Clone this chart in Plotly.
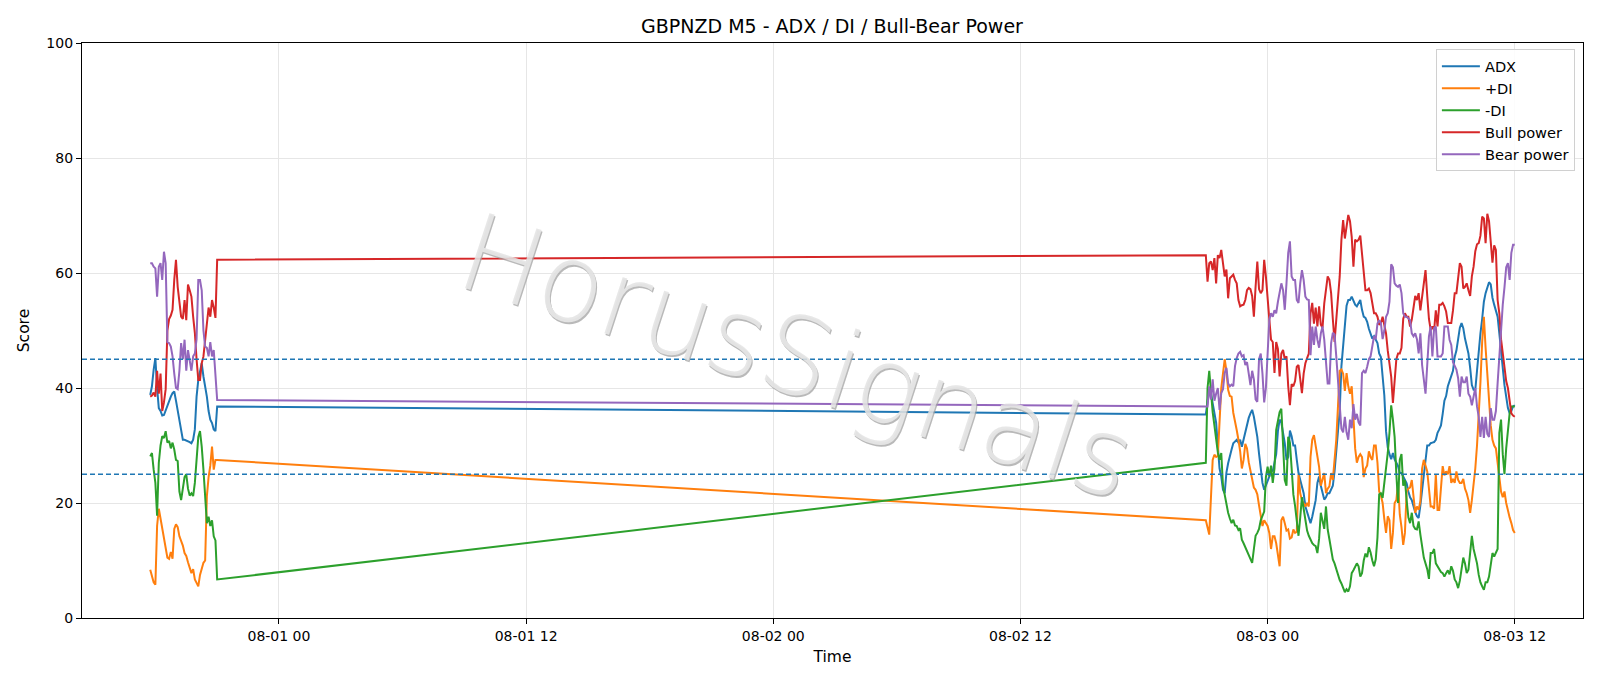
import pandas as pd
import plotly.graph_objects as go

# ---------------- data ----------------
seg1_start = "2026-07-31 17:45"
seg2_start = "2026-08-02 21:00"

adx_1 = [38.8, 40.3, 43.2, 45.2, 40.0, 36.5, 36.0, 35.2, 35.3, 36.2,
         36.8, 37.8, 38.5, 39.1, 39.4, 37.8, 36.0, 34.3, 32.5, 31.0,
         31.0, 30.9, 30.7, 30.6, 30.4, 31.0, 32.8, 38.5, 41.4, 43.0,
         44.3, 42.0, 40.3, 38.5, 36.0, 34.5, 33.9, 32.8, 32.5, 36.8]
pdi_1 = [8.4, 7.3, 6.2, 5.8, 16.0, 19.0, 17.3, 15.5, 13.8, 12.5,
         10.5, 10.3, 11.5, 10.3, 15.5, 16.3, 15.8, 14.2, 13.5, 12.6,
         11.3, 10.8, 9.7, 8.8, 7.8, 8.5, 6.7, 6.1, 5.5, 7.5,
         8.5, 9.6, 10.0, 21.2, 24.5, 26.5, 29.8, 25.8, 27.5, 27.5]
mdi_1 = [28.1, 28.7, 25.8, 23.5, 17.8, 27.0, 30.0, 31.6, 31.3, 32.5,
         30.5, 30.8, 29.5, 30.5, 29.3, 27.5, 27.3, 22.0, 20.5, 23.0,
         24.5, 25.0, 22.5, 21.3, 21.7, 21.2, 23.5, 27.5, 31.5, 32.5,
         29.8, 25.8, 21.5, 16.5, 17.6, 16.0, 17.0, 14.2, 13.5, 6.7]
bull_1 = [38.5, 38.7, 39.2, 38.5, 43.0, 39.0, 42.5, 36.0, 37.5, 39.8,
          50.0, 52.0, 52.6, 53.6, 58.8, 62.3, 57.6, 55.3, 52.4, 52.0,
          55.3, 51.8, 58.0, 57.0, 55.9, 52.4, 49.6, 45.0, 41.4, 41.4,
          44.3, 45.5, 48.5, 51.8, 54.0, 52.4, 55.3, 54.0, 52.2, 62.3]
bear_1 = [61.7, 61.7, 61.1, 60.8, 55.9, 61.1, 61.7, 58.8, 63.7, 61.7,
          48.0, 47.8, 47.2, 45.5, 42.5, 40.0, 39.8, 43.0, 47.8, 45.0,
          48.4, 43.0, 46.6, 44.9, 43.0, 45.5, 46.0, 48.5, 58.8, 58.8,
          57.0, 50.0, 47.2, 47.0, 45.5, 48.0, 45.5, 46.6, 43.0, 37.9]

adx_2 = [35.4, 38.0, 39.8, 39.0, 37.5, 35.5, 34.0, 29.8, 26.0, 24.6,
         22.3, 21.7, 25.3, 26.9, 28.3, 29.3, 30.4, 30.7, 31.0, 30.5,
         31.0, 29.8, 31.0, 32.2, 33.8, 34.8, 35.6, 36.2, 35.0, 33.3,
         31.5, 28.6, 25.5, 23.5, 22.3, 23.0, 24.0, 24.6, 25.8, 25.5,
         27.0, 28.5, 32.5, 34.5, 34.0, 32.0, 30.4, 27.5, 28.0, 32.6,
         31.6, 30.0, 30.0, 27.5, 25.2, 24.0, 22.7, 21.7, 19.4, 18.4,
         17.6, 16.5, 17.6, 18.8, 20.5, 23.5, 24.6, 23.0, 21.8, 20.6,
         21.0, 21.7, 21.7, 22.3, 23.0, 25.5, 28.6, 32.2, 36.0, 43.8,
         47.3, 51.0, 54.3, 55.3, 55.3, 55.9, 55.1, 54.5, 54.2, 54.7,
         55.3, 53.6, 52.4, 52.2, 51.5, 50.3, 49.5, 48.6, 49.0, 48.5,
         47.8, 46.0, 45.4, 42.0, 38.7, 32.5, 29.7, 28.5, 27.6, 28.7,
         27.6, 27.0, 26.4, 25.2, 25.2, 24.6, 24.0, 23.4, 22.0, 21.0,
         20.5, 19.3, 18.4, 17.7, 17.4, 19.6, 22.4, 25.0, 27.4, 30.0,
         30.0, 30.4, 30.5, 30.6, 31.0, 32.2, 32.8, 33.5, 35.5, 37.8,
         38.6, 40.3, 41.2, 42.0, 43.0, 45.4, 46.5, 48.5, 50.5, 51.3,
         50.4, 48.6, 47.3, 46.0, 43.5, 40.5, 39.7, 39.7, 43.0, 47.0,
         49.5, 52.0, 55.0, 56.5, 57.5, 58.4, 58.0, 55.7, 54.5, 53.6,
         52.4, 49.5, 46.0, 42.5, 40.5, 38.5, 36.5, 35.6, 36.0, 36.8,
         37.0]
pdi_2 = [17.0, 15.5, 14.5, 21.0, 27.5, 28.4, 28.0, 28.2, 35.0, 40.0,
         42.5, 45.0, 43.0, 39.7, 38.6, 38.5, 35.7, 34.4, 32.7, 31.0,
         29.0, 26.0, 27.5, 30.3, 29.5, 27.1, 25.4, 24.2, 22.7, 22.3,
         21.5, 19.6, 17.7, 16.0, 17.0, 16.4, 16.0, 14.8, 12.0, 14.2,
         14.2, 13.0, 10.5, 9.0, 17.0, 17.6, 16.5, 15.2, 15.4, 13.8,
         14.0, 15.4, 14.8, 15.0, 25.0, 21.7, 20.5, 20.0, 19.4, 20.0,
         19.4, 28.0, 31.0, 31.8, 29.8, 27.5, 26.3, 23.0, 24.0, 25.2,
         21.7, 22.5, 22.9, 25.2, 24.0, 26.9, 31.0, 36.8, 43.0, 43.2,
         42.5, 39.5, 42.6, 40.3, 39.0, 40.3, 33.5, 29.5, 27.0, 28.0,
         28.5, 28.0, 24.5, 26.0, 26.5, 29.0, 28.0, 27.5, 30.0, 30.0,
         27.0, 22.0, 21.3, 20.0, 17.2, 14.8, 17.7, 17.0, 12.0, 14.8,
         20.0, 20.5, 23.5, 18.0, 15.8, 12.7, 14.8, 22.0, 22.5, 22.7,
         24.0, 21.5, 18.3, 19.4, 18.8, 20.3, 26.0, 27.5, 26.3, 25.5,
         22.5, 19.4, 19.4, 19.0, 25.0, 18.8, 18.8, 23.0, 26.4, 24.8,
         25.5, 25.0, 26.4, 23.5, 24.2, 23.5, 25.5, 24.0, 23.5, 23.5,
         24.2, 22.5, 21.7, 20.5, 18.3, 20.5, 23.0, 26.0, 30.0, 35.0,
         41.0, 48.0, 52.4, 47.0, 42.0, 37.5, 33.5, 31.0, 30.0, 29.5,
         27.0, 24.0, 22.0, 21.0, 22.0, 20.0, 18.5, 17.5, 16.5, 15.3,
         14.8]
mdi_2 = [27.0, 40.0, 43.0, 38.5, 35.8, 33.5, 31.0, 28.8, 27.5, 28.7,
         23.0, 21.2, 19.5, 18.3, 17.3, 16.5, 17.1, 16.1, 16.0, 15.3,
         15.6, 13.6, 13.0, 12.3, 11.5, 10.8, 10.2, 9.6, 12.0, 14.3,
         14.8, 15.5, 17.0, 17.8, 18.5, 24.5, 26.3, 24.6, 26.5, 23.5,
         26.0, 32.7, 34.5, 35.8, 36.4, 28.5, 24.0, 23.0, 31.5, 30.5,
         26.0, 21.5, 19.5, 16.5, 14.3, 17.5, 21.0, 19.0, 17.0, 15.2,
         14.3, 13.6, 13.0, 12.7, 12.5, 11.3, 13.8, 18.3, 17.0, 15.5,
         19.4, 15.4, 13.7, 11.8, 10.2, 9.5, 8.4, 7.5, 6.6, 6.0,
         5.2, 4.5, 5.0, 4.6, 5.5, 7.8, 8.3, 8.8, 9.5, 9.0,
         7.2, 7.8, 10.0, 11.2, 10.6, 12.3, 11.4, 10.0, 9.0, 10.2,
         14.0, 21.5, 21.7, 20.9, 23.5, 25.2, 28.7, 32.2, 37.0, 34.5,
         31.5, 25.0, 20.0, 27.5, 28.5, 23.0, 24.0, 20.5, 17.5, 16.5,
         18.3, 16.0, 15.5, 15.4, 16.8, 14.5, 12.5, 10.5, 9.5, 8.5,
         6.8, 11.3, 11.3, 12.0, 9.5, 9.0, 8.5, 8.0, 7.8, 7.2,
         7.8, 8.3, 7.6, 9.0, 8.2, 6.7, 6.2, 5.2, 6.5, 9.0,
         10.5, 9.5, 7.8, 8.4, 12.0, 14.3, 12.0, 10.7, 9.5, 7.5,
         6.2, 5.5, 4.9, 6.2, 6.2, 7.2, 9.3, 11.3, 10.7, 11.3,
         12.0, 32.2, 34.5, 28.5, 25.0, 29.5, 32.5, 35.6, 36.8, 36.8,
         36.8]
bull_2 = [63.1, 58.5, 61.7, 62.0, 60.5, 62.6, 58.2, 63.1, 62.6, 64.0,
          61.1, 59.4, 60.6, 55.6, 59.1, 59.4, 59.7, 58.8, 58.2, 55.3,
          54.2, 54.4, 54.5, 55.3, 57.0, 57.4, 57.2, 56.0, 52.4, 57.6,
          62.0, 57.2, 56.5, 57.0, 62.3, 59.4, 54.7, 51.9, 48.4, 48.0,
          42.6, 48.0, 46.8, 42.0, 46.0, 46.6, 45.0, 45.5, 40.3, 37.0,
          40.7, 40.3, 41.2, 43.7, 44.0, 41.0, 39.1, 42.5, 44.3, 45.2,
          46.0, 53.0, 54.8, 51.2, 54.0, 50.7, 54.2, 51.0, 50.5, 54.7,
          56.8, 59.4, 58.8, 56.5, 52.0, 48.0, 51.9, 55.6, 59.4, 65.8,
          69.2, 66.0, 67.8, 70.1, 69.0, 66.3, 61.1, 65.8, 65.5, 65.8,
          66.5, 63.4, 59.5, 57.0, 57.0, 57.3, 56.5, 54.5, 53.0, 53.0,
          52.4, 51.0, 51.3, 52.4, 51.0, 49.5, 46.5, 43.7, 42.0, 37.4,
          41.7, 45.0, 46.0, 46.0, 47.0, 52.0, 53.0, 52.4, 52.4, 50.7,
          51.9, 54.5, 56.0, 55.3, 56.5, 53.5, 56.0, 58.8, 60.5, 56.0,
          52.0, 50.1, 50.7, 50.0, 53.5, 50.7, 54.5, 54.5, 54.8, 54.2,
          53.3, 51.3, 51.3, 51.3, 53.5, 56.5, 56.5, 59.5, 61.7, 61.1,
          57.3, 57.6, 58.2, 57.0, 56.0, 59.4, 61.1, 63.8, 65.0, 65.2,
          66.5, 69.8, 69.5, 65.2, 70.3, 69.0, 65.0, 61.8, 64.8, 64.0,
          55.3, 53.0, 48.5, 46.0, 43.7, 41.2, 40.0, 37.4, 35.6, 35.2,
          35.0]
bear_2 = [36.8, 36.8, 40.3, 38.0, 41.5, 37.8, 39.0, 40.0, 36.2, 39.1,
          39.8, 42.6, 43.5, 40.8, 40.3, 40.6, 40.3, 43.8, 45.2, 46.0,
          46.3, 45.5, 45.7, 44.0, 44.5, 42.6, 40.5, 43.0, 41.5, 38.0,
          37.6, 45.0, 46.0, 42.5, 37.5, 40.0, 47.5, 51.9, 53.0, 52.4,
          53.5, 53.0, 55.0, 57.0, 58.2, 57.0, 53.6, 58.2, 63.5, 65.5,
          59.4, 58.8, 58.8, 55.3, 54.8, 58.2, 60.5, 58.8, 55.9, 55.4,
          55.3, 45.7, 50.7, 47.5, 50.7, 48.4, 47.0, 49.5, 50.7, 48.4,
          44.0, 40.8, 40.8, 47.8, 49.6, 49.3, 45.5, 41.0, 38.0, 32.9,
          32.3, 35.0, 32.3, 31.0, 34.5, 33.0, 37.2, 34.5, 35.5, 34.0,
          33.5, 42.6, 43.0, 42.6, 43.7, 45.0, 45.5, 47.5, 49.0, 48.5,
          51.2, 51.8, 51.3, 48.5, 50.0, 52.4, 53.0, 55.0, 61.5, 61.0,
          58.2, 57.8, 57.6, 58.0, 56.5, 53.0, 52.4, 52.4, 52.0, 51.8,
          49.5, 49.0, 49.5, 48.5, 46.0, 49.5, 44.0, 41.2, 39.0, 44.0,
          49.0, 50.7, 45.5, 50.4, 50.7, 45.5, 45.5, 45.5, 46.0, 50.7,
          50.7, 50.7, 48.4, 47.5, 44.5, 43.8, 43.2, 41.7, 38.5, 42.0,
          41.0, 41.0, 42.0, 39.0, 38.5, 37.0, 38.5, 40.0, 36.8, 35.0,
          31.5, 35.0, 31.3, 35.0, 32.0, 31.5, 36.5, 34.5, 34.5, 36.0,
          40.8, 46.0, 49.8, 54.5, 57.5, 61.0, 61.7, 58.8, 63.5, 64.9,
          64.9]

series_names = ["ADX", "+DI", "-DI", "Bull power", "Bear power"]
series_colors = ["#1f77b4", "#ff7f0e", "#2ca02c", "#d62728", "#9467bd"]
threshold_levels = [25, 45]
x_tick_labels_format = "%m-%d %H"

# ---------------- build ----------------
t1 = pd.date_range(seg1_start, periods=len(adx_1), freq="5min")
t2 = pd.date_range(seg2_start, periods=len(adx_2), freq="5min")
times = list(t1) + list(t2)

series_values = [adx_1 + adx_2, pdi_1 + pdi_2, mdi_1 + mdi_2,
                 bull_1 + bull_2, bear_1 + bear_2]

fig = go.Figure()
for name, color, vals in zip(series_names, series_colors, series_values):
    fig.add_trace(go.Scatter(x=times, y=vals, mode="lines", name=name,
                             line=dict(color=color, width=2)))

for lvl in threshold_levels:
    fig.add_shape(type="line", xref="paper", x0=0, x1=1, yref="y", y0=lvl, y1=lvl,
                  line=dict(color="#1f77b4", width=1.3, dash="5px,3px"), layer="above")

span = times[-1] - times[0]
xr = [times[0] - span * 0.05, times[-1] + span * 0.05]

font_family = "DejaVu Sans, Liberation Sans, sans-serif"

fig.add_annotation(text="HorusSignals", xref="paper", yref="paper", x=0.4766, y=0.454,
                   showarrow=False, textangle=18, opacity=0.9,
                   font=dict(family="DejaVu Sans", size=108, weight=200,
                             color="rgba(228,228,228,0.95)",
                             shadow="1.5px 1.5px 0 rgba(160,160,160,0.85)"))

fig.update_layout(
    width=1600, height=686, autosize=False,
    margin=dict(l=82, r=17, t=43, b=68),
    paper_bgcolor="white", plot_bgcolor="white",
    font=dict(family=font_family, size=14, color="black"),
    title=dict(text="GBPNZD M5 - ADX / DI / Bull-Bear Power", x=0.52, xanchor="center",
               y=1 - 26.5 / 686, yanchor="middle", yref="container",
               font=dict(size=19, color="black")),
    legend=dict(x=0.9946, y=0.989, xanchor="right", yanchor="top",
                bgcolor="rgba(255,255,255,0.85)", bordercolor="#d0d0d0", borderwidth=1,
                font=dict(size=14.6), itemwidth=38),
    showlegend=True,
)
fig.update_xaxes(range=xr, type="date", tick0="2026-08-01 00:00", dtick=43200000,
                 tickformat=x_tick_labels_format, showgrid=True, gridcolor="#e6e6e6",
                 gridwidth=1, ticks="outside", ticklen=5, tickcolor="black",
                 showline=True, linecolor="black", linewidth=1.2, mirror=True,
                 zeroline=False, title=dict(text="Time", standoff=8, font=dict(size=15.5)))
fig.update_yaxes(range=[0, 100], dtick=20, showgrid=True, gridcolor="#e6e6e6",
                 gridwidth=1, ticks="outside", ticklen=5, tickcolor="black",
                 showline=True, linecolor="black", linewidth=1.2, mirror=True,
                 zeroline=False, title=dict(text="Score", standoff=12, font=dict(size=15.5)))

fig.write_html("out.html", config={"displayModeBar": False},
               post_script="document.body.style.margin='0';document.body.style.overflow='hidden';")
